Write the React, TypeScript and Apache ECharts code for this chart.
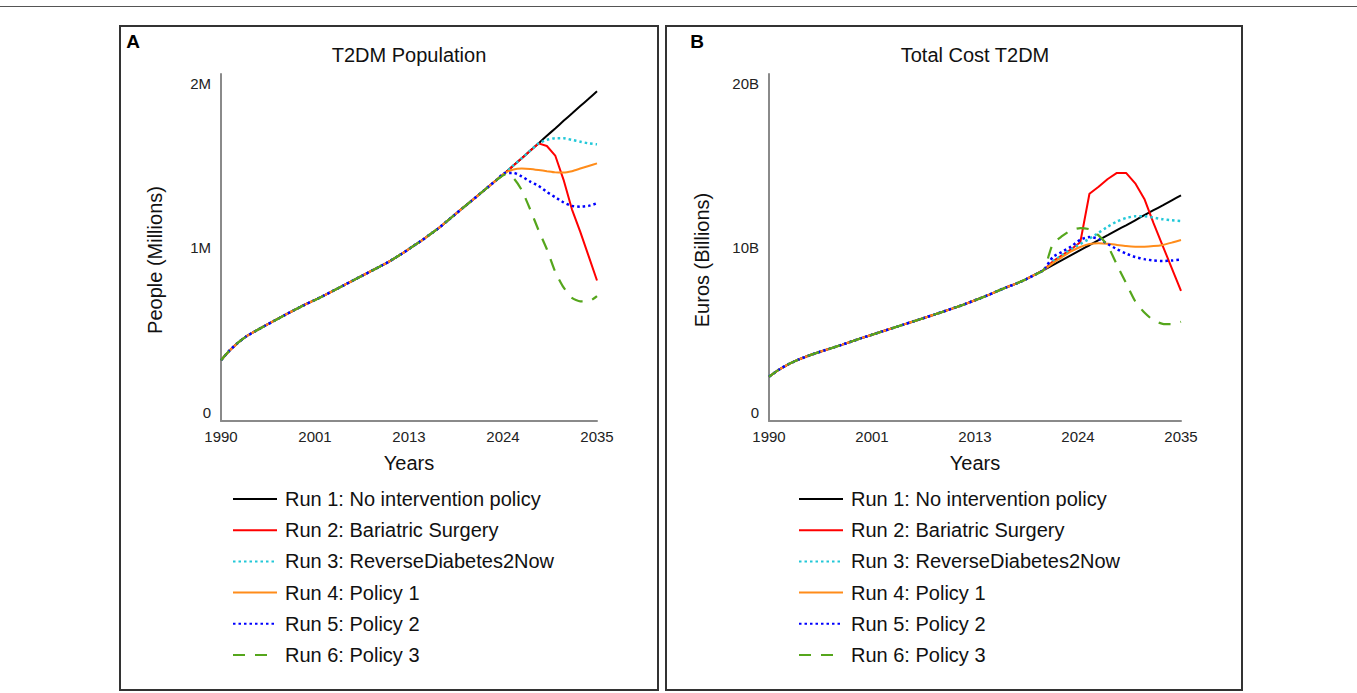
import React, { useEffect, useRef } from "react";
import * as echarts from "echarts";

// ---------- DATA ----------
const years = [
  1990, 1991, 1992, 1993, 1994, 1995, 1996, 1997, 1998, 1999,
  2000, 2001, 2002, 2003, 2004, 2005, 2006, 2007, 2008, 2009,
  2010, 2011, 2012, 2013, 2014, 2015, 2016, 2017, 2018, 2019,
  2020, 2021, 2022, 2023, 2024, 2025, 2026, 2027, 2028, 2029,
  2030, 2031, 2032, 2033, 2034, 2035,
];

const runNames = [
  "Run 1: No intervention policy",
  "Run 2: Bariatric Surgery",
  "Run 3: ReverseDiabetes2Now",
  "Run 4: Policy 1",
  "Run 5: Policy 2",
  "Run 6: Policy 3",
];

// Panel A: T2DM population (millions), shared history 1990-2023
const popHistory = [
  0.35, 0.405, 0.45, 0.487, 0.515, 0.542, 0.568, 0.594, 0.62, 0.645,
  0.67, 0.692, 0.715, 0.74, 0.765, 0.79, 0.815, 0.84, 0.865, 0.89,
  0.916, 0.945, 0.975, 1.008, 1.04, 1.075, 1.11, 1.15, 1.19, 1.23,
  1.27, 1.31, 1.35, 1.39,
];
// 2024-2035 per run
const popRun1 = [1.43, 1.473, 1.515, 1.558, 1.60, 1.644, 1.686, 1.73, 1.772, 1.815, 1.857, 1.90];
const popRun2 = [1.43, 1.473, 1.515, 1.558, 1.60, 1.585, 1.53, 1.39, 1.22, 1.09, 0.95, 0.81];
const popRun3 = [1.43, 1.473, 1.515, 1.558, 1.60, 1.62, 1.63, 1.63, 1.62, 1.61, 1.60, 1.595];
const popRun4 = [1.43, 1.45, 1.455, 1.453, 1.447, 1.44, 1.433, 1.432, 1.44, 1.455, 1.47, 1.485];
const popRun5 = [1.43, 1.43, 1.41, 1.38, 1.355, 1.32, 1.29, 1.26, 1.24, 1.235, 1.24, 1.255];
const popRun6 = [1.42, 1.40, 1.33, 1.22, 1.10, 0.99, 0.86, 0.77, 0.71, 0.69, 0.69, 0.72];

// Panel B: total cost (billion euros), shared history 1990-2020
const costHistory = [
  2.55, 2.93, 3.24, 3.49, 3.7, 3.89, 4.06, 4.23, 4.4, 4.58,
  4.76, 4.93, 5.1, 5.27, 5.44, 5.61, 5.78, 5.95, 6.12, 6.3,
  6.48, 6.66, 6.86, 7.06, 7.27, 7.5, 7.72, 7.92, 8.15, 8.42,
  8.7,
];
// 2021-2035 per run
const costRun1 = [8.99, 9.27, 9.56, 9.85, 10.13, 10.42, 10.71, 11.0, 11.28, 11.57, 11.86, 12.15, 12.43, 12.72, 13.0];
const costRun2 = [9.2, 9.55, 9.9, 10.3, 13.1, 13.5, 13.95, 14.3, 14.3, 13.7, 12.8, 11.4, 10.1, 8.8, 7.5];
const costRun3 = [9.2, 9.55, 9.9, 10.2, 10.5, 10.85, 11.2, 11.5, 11.7, 11.8, 11.8, 11.72, 11.63, 11.57, 11.53];
const costRun4 = [9.1, 9.45, 9.78, 10.03, 10.2, 10.25, 10.22, 10.15, 10.08, 10.05, 10.05, 10.08, 10.15, 10.28, 10.43];
const costRun5 = [9.45, 9.75, 10.05, 10.45, 10.6, 10.5, 10.2, 9.9, 9.65, 9.45, 9.33, 9.25, 9.22, 9.25, 9.3];
const costRun6 = [10.2, 10.65, 11.0, 11.12, 11.05, 10.7, 10.1, 9.0, 7.95, 6.9, 6.25, 5.8, 5.6, 5.58, 5.72];

const xTickValues = [1990, 2001.25, 2012.5, 2023.75, 2035];
const xTickLabels = ["1990", "2001", "2013", "2024", "2035"];
const popTickValues = [0, 1, 2];
const popTickLabels = ["0", "1M", "2M"];
const costTickValues = [0, 10, 20];
const costTickLabels = ["0", "10B", "20B"];

// ---------- STYLE ----------
const FONT = "'Liberation Sans', Arial, Helvetica, sans-serif";
const runColors = ["#000000", "#ff0000", "#22c8d8", "#ff8c1a", "#0000ff", "#55a61c"];
const runTypes: any[] = ["solid", "solid", [2.5, 3], "solid", [2.5, 3], [12, 10]];
const runWidths = [2, 2, 2.5, 2, 2.5, 2.2];
const runSmooth = [0.2, false, 0.2, 0.2, 0.2, 0.2];

function buildSeries(history: number[], run: number[]) {
  return years.map((y, i) => [y, i < history.length ? history[i] : run[i - history.length]]);
}

export default function App() {
  const ref = useRef<HTMLDivElement>(null);

  useEffect(() => {
    if (!ref.current) return;
    const chart = echarts.init(ref.current, null, { renderer: "svg" });

    const popRuns = [popRun1, popRun2, popRun3, popRun4, popRun5, popRun6];
    const costRuns = [costRun1, costRun2, costRun3, costRun4, costRun5, costRun6];

    const makeSeries = (runs: number[][], history: number[], axis: number) =>
      runs.map((r, k) => ({
        type: "line",
        name: runNames[k],
        xAxisIndex: axis,
        yAxisIndex: axis,
        data: buildSeries(history, r),
        symbol: "none",
        showSymbol: false,
        smooth: runSmooth[k],
        lineStyle: { color: runColors[k], width: runWidths[k], type: runTypes[k], cap: "butt" },
        itemStyle: { color: runColors[k] },
        z: 2 + k,
      }));

    const series: any[] = [
      ...makeSeries(popRuns, popHistory, 0),
      ...makeSeries(costRuns, costHistory, 1),
    ];

    const axisLine = { show: true, lineStyle: { color: "#8a8a8a", width: 2 } };

    const xAxisBase = (idx: number) => ({
      type: "value",
      gridIndex: idx,
      min: 1990,
      max: 2035,
      axisLine,
      axisTick: { show: false },
      splitLine: { show: false },
      axisLabel: {
        customValues: xTickValues,
        formatter: (v: number) => {
          const i = xTickValues.indexOf(v);
          return i >= 0 ? xTickLabels[i] : "";
        },
        fontSize: 15,
        fontFamily: FONT,
        color: "#222",
        margin: 8,
      },
      name: "Years",
      nameLocation: "middle",
      nameGap: 32,
      nameTextStyle: { fontSize: 20, fontFamily: FONT, color: "#111" },
    });

    const yAxisBase = (idx: number, max: number, vals: number[], labels: string[]) => ({
      type: "value",
      gridIndex: idx,
      min: 0,
      max,
      axisLine,
      axisTick: { show: false },
      splitLine: { show: false },
      axisLabel: {
        customValues: vals,
        formatter: (v: number) => {
          const i = vals.indexOf(v);
          if (i < 0) return "";
          if (i === 0) return "{lo|" + labels[i] + "}";
          if (i === vals.length - 1) return "{hi|" + labels[i] + "}";
          return labels[i];
        },
        fontSize: 15,
        fontFamily: FONT,
        color: "#222",
        margin: 10,
        rich: {
          lo: { fontSize: 15, fontFamily: FONT, color: "#222", padding: [0, 0, 18, 0] },
          hi: { fontSize: 15, fontFamily: FONT, color: "#222", padding: [18, 0, 0, 0] },
        },
      },
    });

    const legendBase = (left: number) => ({
      data: runNames.map((n) => ({ name: n, itemStyle: { opacity: 0 } })),
      orient: "vertical",
      left,
      top: 489,
      padding: 0,
      itemWidth: 44,
      itemHeight: 20,
      itemGap: 11.2,
      selectedMode: false,
      itemStyle: { opacity: 0, borderWidth: 0 },
      textStyle: { fontSize: 20, fontFamily: FONT, color: "#111", padding: [0, 0, 0, 3] },
    });

    const titleText = (x: number, y: number, text: string, extra: any = {}) => ({
      type: "text",
      x,
      y,
      style: {
        text,
        fontSize: 20,
        fontFamily: FONT,
        fill: "#111",
        textAlign: "center",
        textVerticalAlign: "middle",
        ...extra,
      },
    });

    chart.setOption({
      animation: false,
      backgroundColor: "#ffffff",
      grid: [
        { left: 221, top: 74, width: 376, height: 347, containLabel: false, outerBoundsMode: "none" },
        { left: 769, top: 74, width: 412, height: 347, containLabel: false, outerBoundsMode: "none" },
      ],
      xAxis: [xAxisBase(0), xAxisBase(1)],
      yAxis: [
        yAxisBase(0, 2, popTickValues, popTickLabels),
        yAxisBase(1, 20, costTickValues, costTickLabels),
      ],
      legend: [legendBase(232), legendBase(798)],
      series,
      graphic: [
        { type: "line", shape: { x1: 0, y1: 6.5, x2: 1357, y2: 6.5 }, style: { stroke: "#555", lineWidth: 1 } },
        { type: "rect", shape: { x: 120, y: 26, width: 538, height: 664 }, style: { fill: "none", stroke: "#333", lineWidth: 2 } },
        { type: "rect", shape: { x: 666, y: 26, width: 576, height: 664 }, style: { fill: "none", stroke: "#333", lineWidth: 2 } },
        titleText(133, 41, "A", { fontSize: 19, fontWeight: "bold", fill: "#000" }),
        titleText(697, 41, "B", { fontSize: 19, fontWeight: "bold", fill: "#000" }),
        titleText(409, 55, "T2DM Population"),
        titleText(975, 55, "Total Cost T2DM"),
        { ...titleText(155, 260, "People (Millions)"), rotation: Math.PI / 2 },
        { ...titleText(702, 260, "Euros (Billions)"), rotation: Math.PI / 2 },
      ],
    });

    return () => chart.dispose();
  }, []);

  return (
    <div
      ref={ref}
      style={{ position: "fixed", left: 0, top: 0, width: 1357, height: 693, background: "#fff" }}
    />
  );
}
